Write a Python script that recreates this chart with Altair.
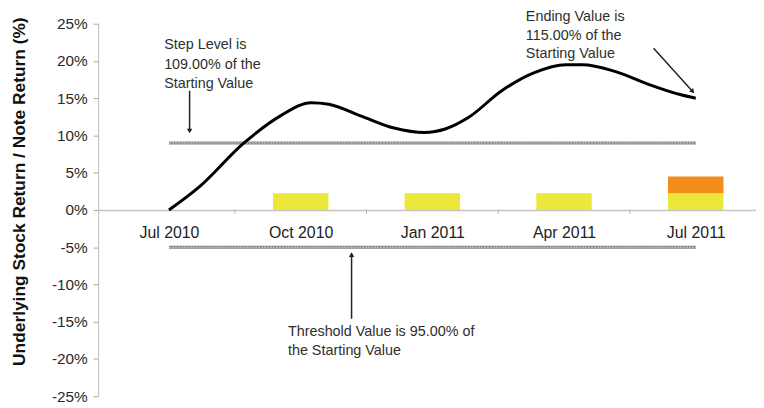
import altair as alt
import pandas as pd

# ---- data ----
curve_month = [0.0, 0.69, 1.69, 2.53, 3.24, 3.64, 4.38, 5.13, 5.82, 6.31, 6.82,
               7.58, 8.31, 9.04, 9.42, 10.16, 10.91, 11.64, 12.0]
curve_return = [0.0, 3.1, 8.9, 12.6, 14.4, 14.2, 12.6, 11.0, 10.4, 10.9, 12.4,
                16.0, 18.4, 19.5, 19.5, 18.6, 16.9, 15.5, 15.0]

quarter_month = [0, 3, 6, 9, 12]
quarter_label = ["Jul 2010", "Oct 2010", "Jan 2011", "Apr 2011", "Jul 2011"]
between_ticks = [1.5, 4.5, 7.5, 10.5]
y_ticks = [-25, -20, -15, -10, -5, 0, 5, 10, 15, 20, 25]

bar_month = [3, 6, 9, 12, 12]
bar_low = [0, 0, 0, 0, 2.25]
bar_high = [2.25, 2.25, 2.25, 2.25, 4.5]
bar_kind = ["coupon", "coupon", "coupon", "coupon", "upside"]

level_value = [9.0, -5.0]
level_start = [0, 0]
level_end = [12, 12]

arrow_x = [0.47, 11.04, 4.16]
arrow_y = [16.0, 21.7, -14.6]
arrow_x2 = [0.47, 11.93, 4.16]
arrow_y2 = [10.6, 15.9, -6.0]
arrow_angle = [180, 138, 0]

note_x = [-0.11, -0.11, -0.11, 8.13, 8.13, 8.13, 2.71, 2.71]
note_y = [22.2, 19.5, 16.9, 25.9, 23.4, 20.9, -16.4, -18.9]
note_text = ["Step Level is", "109.00% of the", "Starting Value",
             "Ending Value is", "115.00% of the", "Starting Value",
             "Threshold Value is 95.00% of", "the Starting Value"]

FONT = "Liberation Sans"

curve_df = pd.DataFrame({"m": curve_month, "r": curve_return})
tick_df = pd.DataFrame({"m": between_ticks, "z": [0] * len(between_ticks)})
bar_df = pd.DataFrame({"m": bar_month, "lo": bar_low, "hi": bar_high, "kind": bar_kind})
lvl_df = pd.DataFrame({"v": level_value, "s": level_start, "e": level_end})
arr_df = pd.DataFrame({"x": arrow_x, "y": arrow_y, "x2": arrow_x2, "y2": arrow_y2,
                       "ang": arrow_angle})
note_df = pd.DataFrame({"x": note_x, "y": note_y, "t": note_text})

xscale = alt.Scale(domain=[-1.5, 13.26], nice=False, zero=False)
yscale = alt.Scale(domain=[-25, 25], nice=False)

label_map = "{" + ",".join(f"'{m}':'{l}'" for m, l in zip(quarter_month, quarter_label)) + "}"

x_axis = alt.Axis(values=quarter_month, labelExpr=f"{label_map}[datum.value]",
                  ticks=False, tickSize=0, domain=True, domainColor="#c4c4c4",
                  domainWidth=1.5, grid=False, offset=-188, labelPadding=15,
                  labelFont=FONT, labelFontSize=16, labelColor="#222",
                  labelOverlap=False, title=None)

y_axis = alt.Axis(values=y_ticks, labelExpr="datum.value + '%'",
                  grid=False, domainColor="#bcbcbc", tickColor="#a8a8a8", tickSize=5,
                  ticks=True, labelPadding=6, labelFont=FONT, labelFontSize=15.5,
                  labelColor="#2a2a2a", labelOverlap=False, labelSeparation=0,
                  title="Underlying Stock Return / Note Return (%)",
                  titleFont=FONT, titleFontSize=17.5, titleFontWeight="bold", titleColor="#111",
                  titleAngle=270, titleAlign="center", titleBaseline="middle",
                  titleX=-79, titleY=169)


def X(field):
    return alt.X(field, type="quantitative", scale=xscale, axis=x_axis)


def Y(field):
    return alt.Y(field, type="quantitative", scale=yscale, axis=y_axis)


bars = alt.Chart(bar_df).mark_bar(size=56).encode(
    x=X("m"), y=Y("lo"), y2="hi:Q",
    color=alt.Color("kind:N", scale=alt.Scale(domain=["coupon", "upside"],
                                              range=["#ece83a", "#f28c1c"]), legend=None),
)

ticks = alt.Chart(tick_df).mark_rule(color="#b0b0b0", strokeWidth=1).encode(
    x=X("m"), y=Y("z"), y2=alt.value(192))

levels_dark = alt.Chart(lvl_df).mark_rule(color="#858585", strokeWidth=3).encode(
    x=X("s"), x2="e:Q", y=Y("v"))
levels_light = alt.Chart(lvl_df).mark_rule(color="#d4d4d4", strokeWidth=1,
                                           strokeDash=[2, 1]).encode(
    x=X("s"), x2="e:Q", y=Y("v"))

line = alt.Chart(curve_df).mark_line(color="black", strokeWidth=3, interpolate="monotone").encode(
    x=X("m"), y=Y("r"))

arrows = alt.Chart(arr_df).mark_rule(color="#222", strokeWidth=1.5).encode(
    x=X("x"), x2="x2:Q", y=Y("y"), y2="y2:Q")

heads = alt.Chart(arr_df).mark_point(shape="triangle-up", filled=True, color="#222",
                                     size=30, opacity=1).encode(
    x=X("x2"), y=Y("y2"), angle=alt.Angle("ang:Q", scale=None))

notes = alt.Chart(note_df).mark_text(align="left", baseline="middle", font=FONT,
                                     fontSize=14.5, color="#2e2e2e").encode(
    x=X("x"), y=Y("y"), text="t:N")

chart = alt.layer(bars, ticks, levels_dark, levels_light, line, arrows, heads, notes).properties(
    width=664, height=376,
    autosize=alt.AutoSizeParams(type="none"),
    padding={"left": 91, "top": 14, "right": 0, "bottom": 8},
).configure_view(stroke=None).configure_axis(labelOverlap=False)

chart.save("out.html", embed_options={"renderer": "svg", "actions": False})
